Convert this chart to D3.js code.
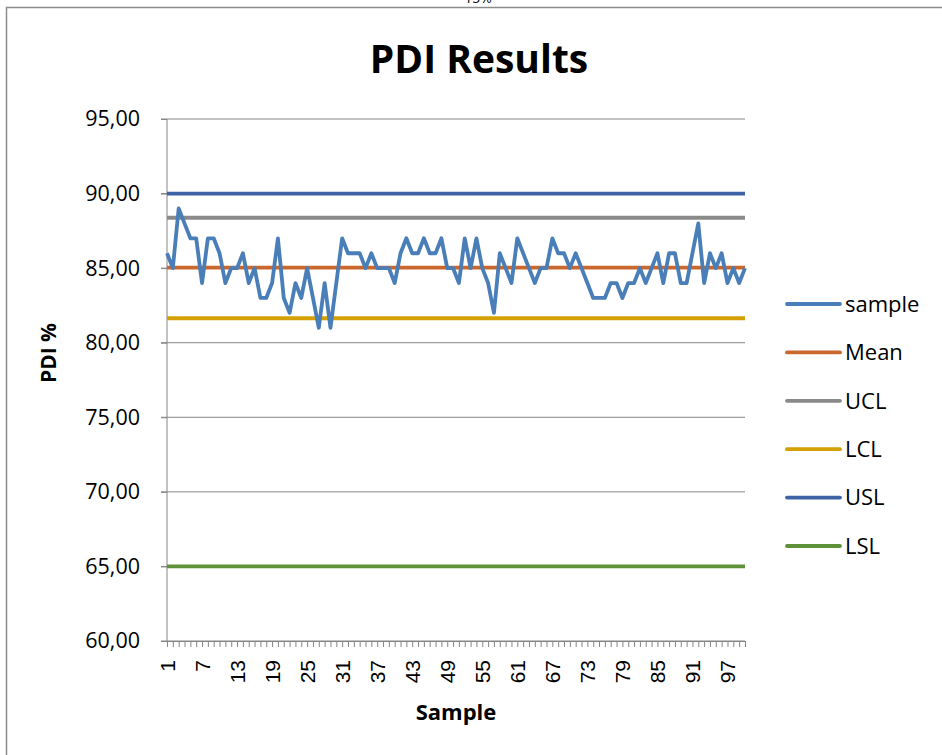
<!DOCTYPE html>
<html>
<head>
<meta charset="utf-8">
<script src="https://cdn.jsdelivr.net/npm/d3@7"></script>
<style>
  html, body { margin: 0; padding: 0; background: #fff; }
  svg { display: block; font-family: "Open Sans", "Liberation Sans", sans-serif; }
</style>
</head>
<body>
<svg id="chart" width="942" height="755"></svg>
<script>
// ---- data ----
const samples = [
  86,85,89,88,87,87,84,87,87,86,
  84,85,85,86,84,85,83,83,84,87,
  83,82,84,83,85,83,81,84,81,84,
  87,86,86,86,85,86,85,85,85,84,
  86,87,86,86,87,86,86,87,85,85,
  84,87,85,87,85,84,82,86,85,84,
  87,86,85,84,85,85,87,86,86,85,
  86,85,84,83,83,83,84,84,83,84,
  84,85,84,85,86,84,86,86,84,84,
  86,88,84,86,85,86,84,85,84,85
];
const sampleIds = samples.map((d, i) => i + 1);
const limitNames = ["Mean", "UCL", "LCL", "USL", "LSL"];
const limitValues = [85.03, 88.38, 81.64, 90, 65];
const yTicks = [60, 65, 70, 75, 80, 85, 90, 95];
const xTickLabels = [1,7,13,19,25,31,37,43,49,55,61,67,73,79,85,91,97];
const legendNames = ["sample", "Mean", "UCL", "LCL", "USL", "LSL"];
const colors = {
  sample: "#4a7eb8", Mean: "#c9672d", UCL: "#8a8a8a",
  LCL: "#d4a003", USL: "#3d62a6", LSL: "#5e9239"
};

(function () {
const svg = d3.select("#chart");

// frame
svg.append("path")
  .attr("d", "M6.5,760 L6.5,7.5 L950,7.5")
  .attr("fill", "none").attr("stroke", "#8c8c8c").attr("stroke-width", 1.5);

// cut-off text at top (as in the reference)
svg.append("text").attr("x", 478).attr("y", 3).attr("text-anchor", "middle")
  .attr("font-size", 14).attr("fill", "#000").text("15%");

const pLeft = 167, pRight = 745, pTop = 119, pBottom = 641;
const x = d3.scalePoint().domain(sampleIds).range([pLeft, pRight]);
const y = d3.scaleLinear().domain([60, 95]).range([pBottom, pTop]);

// gridlines
svg.append("g").selectAll("line").data(yTicks).join("line")
  .attr("x1", pLeft - 6).attr("x2", pRight)
  .attr("y1", d => y(d)).attr("y2", d => y(d))
  .attr("stroke", "#868686").attr("stroke-width", 1);

// y axis
const yAxis = svg.append("g").attr("transform", `translate(${pLeft},0)`)
  .call(d3.axisLeft(y).tickValues(yTicks).tickSize(6).tickPadding(21)
    .tickFormat(d => d3.format(".2f")(d).replace(".", ",")));
yAxis.select(".domain").remove();
yAxis.selectAll(".tick line").attr("stroke", "#868686");
yAxis.selectAll(".tick text").attr("font-size", 21.5).attr("fill", "#000")
  .attr("font-family", "'Open Sans', sans-serif");
svg.append("line").attr("x1", pLeft).attr("x2", pLeft).attr("y1", pTop).attr("y2", pBottom)
  .attr("stroke", "#868686");

// x axis
const xAxis = svg.append("g").attr("transform", `translate(0,${pBottom})`)
  .call(d3.axisBottom(x).tickSize(6).tickSizeOuter(0)
    .tickFormat(d => xTickLabels.includes(d) ? d : ""));
xAxis.select(".domain").attr("stroke", "#868686").attr("d", `M${pLeft - 6},0.5H${pRight}`);
xAxis.selectAll(".tick line").attr("stroke", "#868686");
xAxis.selectAll(".tick text")
  .attr("font-size", 21).attr("fill", "#000")
  .attr("transform", "rotate(-90)")
  .attr("text-anchor", "end")
  .attr("x", -19).attr("y", 0).attr("dy", "0.35em");

// limit lines
limitNames.forEach((name, i) => {
  svg.append("line")
    .attr("x1", x(1)).attr("x2", x(100))
    .attr("y1", y(limitValues[i])).attr("y2", y(limitValues[i]))
    .attr("stroke", colors[name]).attr("stroke-width", 3.8);
});

// sample line
svg.append("path").datum(samples)
  .attr("fill", "none").attr("stroke", colors.sample).attr("stroke-width", 3.8)
  .attr("stroke-linejoin", "round")
  .attr("d", d3.line().x((d, i) => x(sampleIds[i])).y(d => y(d)));

// titles
svg.append("text").attr("x", 479).attr("y", 73).attr("text-anchor", "middle")
  .attr("font-size", 39).attr("font-weight", "bold").text("PDI Results");
svg.append("text").attr("x", 456).attr("y", 720).attr("text-anchor", "middle")
  .attr("font-size", 22).attr("font-weight", "bold").text("Sample");
svg.append("text").attr("transform", "translate(56,353) rotate(-90)").attr("text-anchor", "middle")
  .attr("font-size", 21).attr("font-weight", "bold").text("PDI %");

// legend
const lg = svg.append("g").selectAll("g").data(legendNames).join("g")
  .attr("transform", (d, i) => `translate(787,${304 + i * 48.4})`);
lg.append("line").attr("x1", 0).attr("x2", 53).attr("y1", 0).attr("y2", 0)
  .attr("stroke", d => colors[d]).attr("stroke-width", 3.8).attr("stroke-linecap", "round");
lg.append("text").attr("x", 58).attr("y", 0).attr("dy", "0.35em")
  .attr("font-size", 22).text(d => d);
})();
</script>
</body>
</html>
